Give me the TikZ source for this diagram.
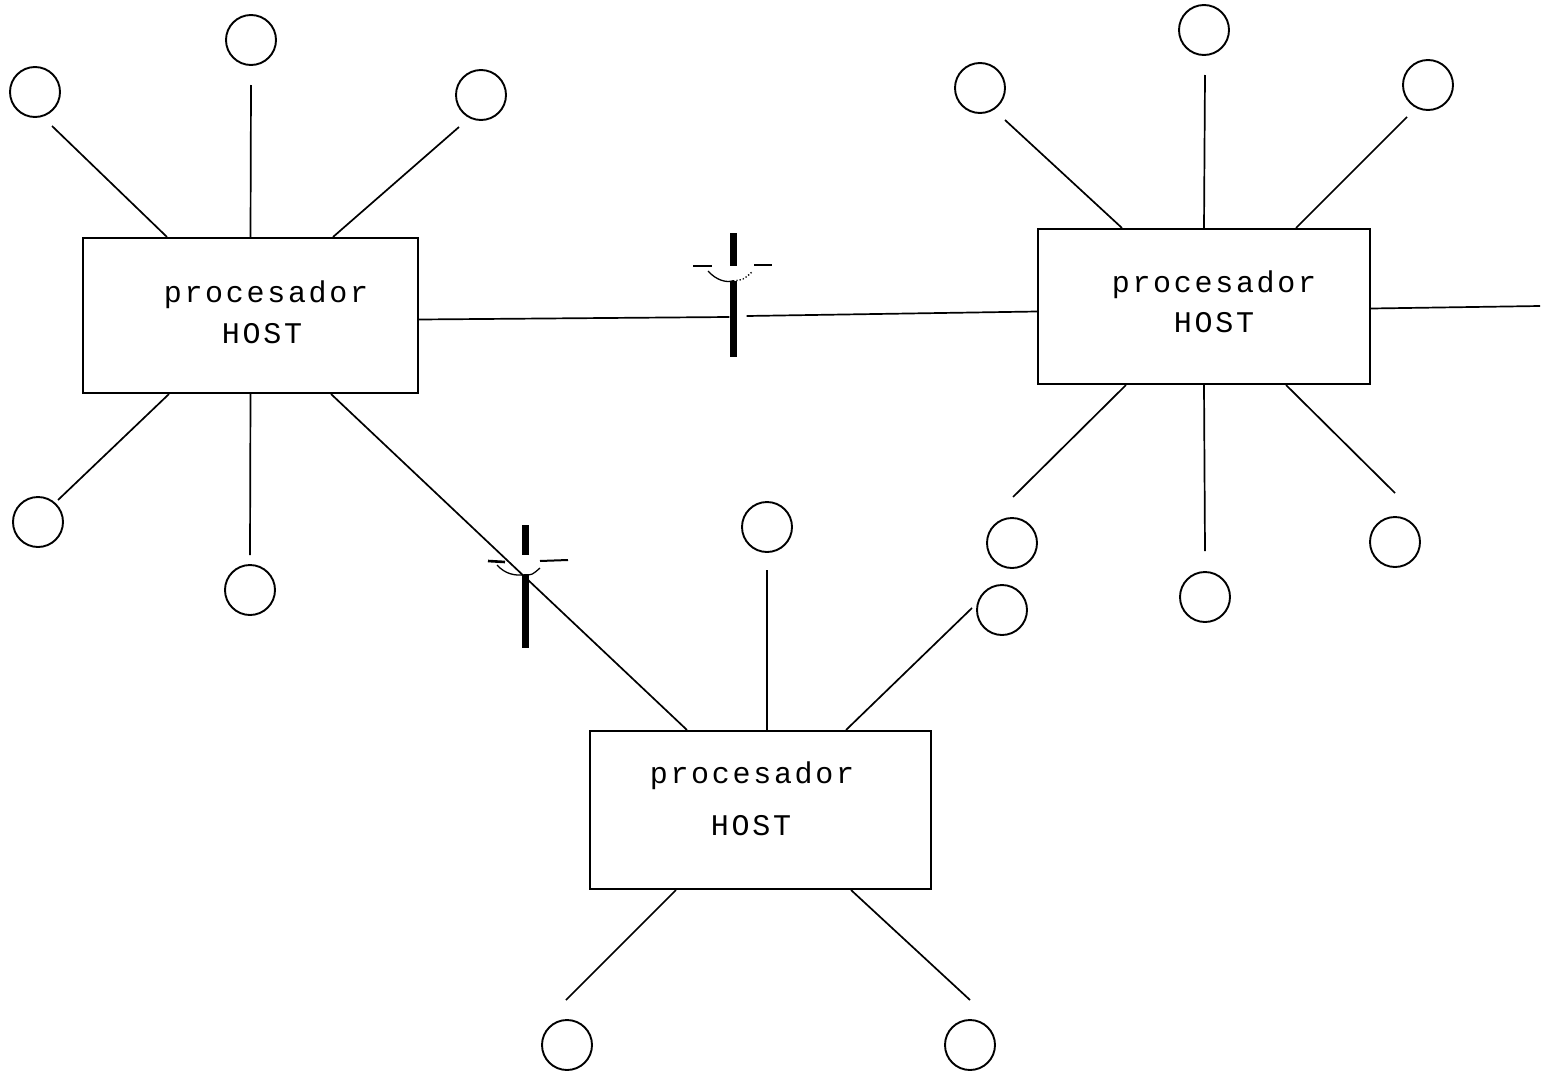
\documentclass[tikz,border=0pt]{standalone}
\usepackage{fontspec}
\newfontfamily\hostfont[LetterSpace=9]{Liberation Mono}
\begin{document}
\begin{tikzpicture}[x=1pt,y=-1pt,
  term/.style={circle,draw,line width=1.9pt,minimum size=50pt,inner sep=0pt},
  host/.style={rectangle,draw,line width=2.1pt,inner sep=0pt},
  link/.style={line width=1.7pt},
  lbl/.style={font=\hostfont\fontsize{30}{34}\selectfont,anchor=base,inner sep=0pt},
  cutbar/.style={rectangle,fill=black,inner sep=0pt,minimum width=7pt},
  cutarc/.style={line width=1.3pt},
  cutmark/.style={line width=2.6pt}]
\useasboundingbox (0,0) rectangle (1548,1071);

% host boxes
\node[host,minimum width=335pt,minimum height=155pt] (L) at (250.5,315.5) {};
\node[host,minimum width=332pt,minimum height=155pt] (R) at (1204,306.5) {};
\node[host,minimum width=341pt,minimum height=158pt] (B) at (760.5,810) {};

\node[lbl] (Lt1) at (266,302) {procesador};
\node[lbl] (Lt2) at (262,343) {HOST};
\node[lbl] (Rt1) at (1214,292) {procesador};
\node[lbl] (Rt2) at (1214,332) {HOST};
\node[lbl] (Bt1) at (752,783) {procesador};
\node[lbl] (Bt2) at (751,835) {HOST};

% terminals
\node[term] (lc1) at (251,40) {};
\node[term] (lc2) at (35,92) {};
\node[term] (lc3) at (481,95) {};
\node[term] (lc4) at (38,522) {};
\node[term] (lc5) at (250,590) {};
\node[term] (rc1) at (1204,30) {};
\node[term] (rc2) at (980,88) {};
\node[term] (rc3) at (1428,85) {};
\node[term] (rc4) at (1012,543) {};
\node[term] (rc5) at (1205,597) {};
\node[term] (rc6) at (1395,542) {};
\node[term] (bc1) at (767,527) {};
\node[term] (bc2) at (1002,610) {};
\node[term] (bc3) at (567,1045) {};
\node[term] (bc4) at (970,1045) {};
\coordinate (rend) at (1540,306);

% cut symbols
\node[cutbar,minimum height=33pt] (cut1a) at (733,249.5) {};
\node[cutbar,minimum height=76pt] (cut1b) at (733,319) {};
\node[cutbar,minimum height=30pt] (cut2a) at (525,540) {};
\node[cutbar,minimum height=73pt] (cut2b) at (525,611.5) {};

% left links
\draw[link] ([shift={(85,0)}]L.north west) -- ([shift={(17,34)}]lc2.center);
\draw[link] (L.north) -- ([shift={(0,45)}]lc1.center);
\draw[link] ([shift={(-86,0)}]L.north east) -- ([shift={(-22,32)}]lc3.center);
\draw[link] ([shift={(87,0)}]L.south west) -- ([shift={(20,-22)}]lc4.center);
\draw[link] (L.south) -- ([shift={(0,-35)}]lc5.center);
\draw[link] ([shift={(-88,0)}]L.south east) -- ([shift={(98,0)}]B.north west);
\draw[link] ([shift={(0,4)}]L.east) -- ([shift={(0,-2)}]cut1b.west);
\draw[link] ([shift={(10,-3)}]cut1b.east) -- ([shift={(0,5)}]R.west);

% right links
\draw[link] ([shift={(85,0)}]R.north west) -- ([shift={(25,32)}]rc2.center);
\draw[link] (R.north) -- ([shift={(1,45)}]rc1.center);
\draw[link] ([shift={(-75,0)}]R.north east) -- ([shift={(-21,32)}]rc3.center);
\draw[link] ([shift={(89,0)}]R.south west) -- ([shift={(1,-46)}]rc4.center);
\draw[link] (R.south) -- ([shift={(0,-46)}]rc5.center);
\draw[link] ([shift={(-85,0)}]R.south east) -- ([shift={(0,-49)}]rc6.center);
\draw[link] ([shift={(0,2)}]R.east) -- (rend);

% bottom links
\draw[link] ([shift={(6.5,0)}]B.north) -- ([shift={(0,43)}]bc1.center);
\draw[link] ([shift={(-86,0)}]B.north east) -- ([shift={(-30,-2)}]bc2.center);
\draw[link] ([shift={(87,0)}]B.south west) -- ([shift={(-1,-45)}]bc3.center);
\draw[link] ([shift={(-81,0)}]B.south east) -- ([shift={(0,-45)}]bc4.center);

% cut switch arcs and marks
\draw[cutarc] (708,271) .. controls (716,280) and (726,283) .. (cut1b.north);
\draw[cutarc,dotted] (cut1b.north) .. controls (743,280) .. (752,272);
\draw[cutmark] (693,266) -- (712,266);
\draw[cutmark] (754,265) -- (772,265);
\draw[cutarc] (497,565) .. controls (505,574) and (515,576) .. (cut2b.north) .. controls (532,575) .. (540,568);
\draw[cutmark] (488,561) -- (505,562);
\draw[cutarc,line width=2pt] (540,561) -- (568,560);
\end{tikzpicture}
\end{document}
